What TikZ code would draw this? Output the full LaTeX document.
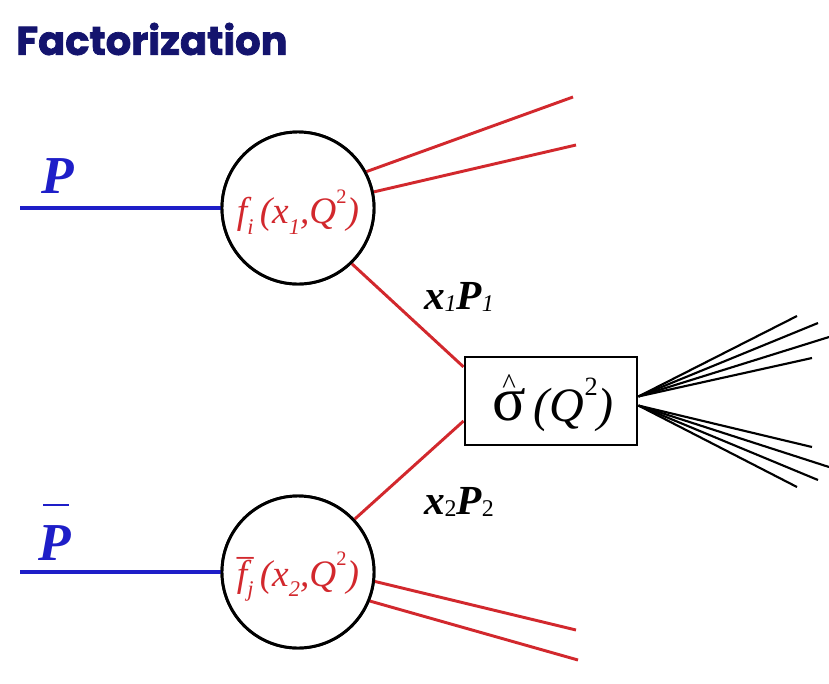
\documentclass[tikz,border=0pt]{standalone}
\usepackage{fontspec}
\setmainfont{Liberation Serif}
\newfontfamily\titlefont{Poppins}[BoldFeatures={FakeBold=1.8}]
\usetikzlibrary{calc}
\definecolor{pblue}{RGB}{30,30,200}
\definecolor{pred}{RGB}{210,40,45}
\definecolor{tnavy}{RGB}{20,20,110}
\newcommand{\mysub}[1]{\raisebox{-0.28em}{\scalebox{0.6}{#1}}}
\newcommand{\mylow}[1]{\raisebox{-0.04em}{\scalebox{0.58}{#1}}}
\newcommand{\mysup}[1]{\raisebox{0.55em}{\scalebox{0.55}{#1}}}
\begin{document}
\begin{tikzpicture}[x=0.75pt,y=-0.75pt,
  redline/.style={draw=pred,line width=2.2pt},
  blueline/.style={draw=pblue,line width=2.4pt},
  fanline/.style={draw=black,line width=1.6pt},
  blob/.style={circle,draw=black,line width=2.2pt,minimum size=114pt,inner sep=0pt,fill=white},
  hardbox/.style={rectangle,draw=black,line width=2.2pt,minimum width=129pt,minimum height=66pt,inner sep=0pt,fill=white},
  plabel/.style={text=pblue,font=\fontsize{40}{44}\selectfont\bfseries\itshape,inner sep=0pt},
  mlabel/.style={text=black,font=\fontsize{31}{34}\selectfont\bfseries\itshape,inner sep=0pt},
  pdflabel/.style={text=pred,font=\fontsize{28}{32}\selectfont\itshape,inner sep=0pt}
]
\useasboundingbox (0,0) rectangle (829,683);
\fill[white] (0,0) rectangle (829,683);

% title
\node[anchor=west,text=tnavy,font=\titlefont\bfseries\fontsize{30}{34}\selectfont,inner sep=0pt] (title) at (16,39) {Factorization};

% circles and box
\node[blob] (c1) at (298,208) {};
\node[blob] (c2) at (298,572) {};
\node[hardbox] (box) at (551,401) {};

% incoming proton lines
\coordinate (pin) at (20,208);
\coordinate (pbin) at (20,572);
\draw[blueline] (pin) -- (c1.west);
\draw[blueline] (pbin) -- (c2.west);
\node[plabel] (plab) at (58,176) {P};
\node[plabel] (pblab) at (55,543) {P};
\coordinate (barl) at (43,505);
\coordinate (barr) at (69,505);
\draw[draw=pblue,line width=1.8pt] (barl) -- (barr);

% spectator red lines
\coordinate (s1) at (573,97);
\coordinate (s2) at (576,145);
\coordinate (s3) at (576,630);
\coordinate (s4) at (578,660);
\draw[redline] (c1.28) -- (s1);
\draw[redline] (c1.12) -- (s2);
\draw[redline] (c2.-7) -- (s3);
\draw[redline] (c2.-22) -- (s4);

% partons into hard box
\draw[redline] (c1.-46) -- ($(box.north west)!0.125!(box.south west)$);
\draw[redline] (c2.43) -- ($(box.north west)!0.72!(box.south west)$);

% outgoing fan
\coordinate (fu) at ($(box.north east)!0.45!(box.south east)$);
\coordinate (fd) at ($(box.north east)!0.55!(box.south east)$);
\coordinate (u1) at (797,316);
\coordinate (u2) at (818,323);
\coordinate (u3) at (829,337);
\coordinate (u4) at (812,358);
\coordinate (d1) at (812,447);
\coordinate (d2) at (829,467);
\coordinate (d3) at (818,480);
\coordinate (d4) at (797,487);
\foreach \e in {u1,u2,u3,u4} \draw[fanline] (fu) -- (\e);
\foreach \e in {d1,d2,d3,d4} \draw[fanline] (fd) -- (\e);

% redraw box and circles on top
\node[hardbox] at (box.center) {};
\node[blob] at (c1.center) {};
\node[blob] at (c2.center) {};

% texts
\node[pdflabel] (t1) at (298,212) {f\mysub{i}\,(x\mysub{1},Q\mysup{\upshape 2})};
\node[pdflabel] (t2) at (298,577) {\rlap{\raisebox{0.86em}{\upshape\scalebox{0.9}[1]{\_}}}f\mysub{j}\,(x\mysub{2},Q\mysup{\upshape 2})};
\node[inner sep=0pt,font=\fontsize{36}{40}\selectfont] (sig) at (553,405) {\ooalign{\raisebox{0.02em}{\scalebox{1.3}{\upshape σ}}\cr\hidewidth\raisebox{0.6em}{\scalebox{0.6}{\upshape\^{}}}\hidewidth\cr}\,\textit{(Q\mysup{\upshape 2})}};
\node[mlabel] (x1) at (459,297) {x\mylow{\mdseries 1}P\mylow{\mdseries 1}};
\node[mlabel] (x2) at (459,502) {x\mylow{\upshape\mdseries 2}P\mylow{\upshape\mdseries 2}};
\end{tikzpicture}
\end{document}
